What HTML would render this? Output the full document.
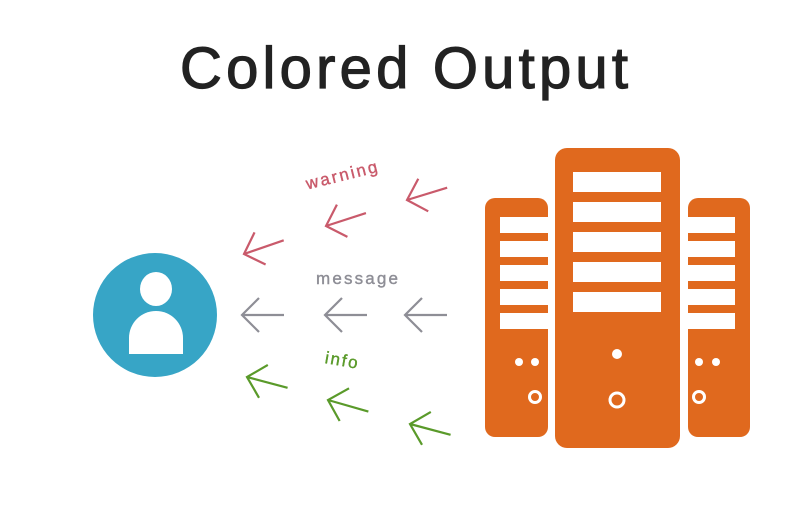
<!DOCTYPE html>
<html><head><meta charset="utf-8"><style>
html,body{margin:0;padding:0;background:#fff;}
svg{display:block;}
</style></head><body>
<svg width="800" height="520" viewBox="0 0 800 520" xmlns="http://www.w3.org/2000/svg">
<text x="180" y="88" textLength="448" lengthAdjust="spacing" font-family="Liberation Sans, sans-serif" font-size="58" fill="#222" stroke="#222" stroke-width="1.2">Colored Output</text>
<circle cx="155" cy="315" r="62" fill="#37a5c6"/>
<ellipse cx="156" cy="289" rx="16" ry="17" fill="#fff"/>
<path d="M129,354 L129,338 A27,27 0 0 1 183,338 L183,354 Z" fill="#fff"/>
<g fill="#e0691e">
<rect x="485" y="198" width="63" height="239" rx="10"/>
<rect x="555" y="148" width="125" height="300" rx="12"/>
<rect x="688" y="198" width="62" height="239" rx="10"/>
</g>
<g fill="#fff">
<rect x="573" y="172" width="88" height="20"/><rect x="573" y="202" width="88" height="20"/><rect x="573" y="232" width="88" height="20"/><rect x="573" y="262" width="88" height="20"/><rect x="573" y="292" width="88" height="20"/>
<rect x="500" y="217" width="48" height="16"/><rect x="500" y="241" width="48" height="16"/><rect x="500" y="265" width="48" height="16"/><rect x="500" y="289" width="48" height="16"/><rect x="500" y="313" width="48" height="16"/>
<rect x="688" y="217" width="47" height="16"/><rect x="688" y="241" width="47" height="16"/><rect x="688" y="265" width="47" height="16"/><rect x="688" y="289" width="47" height="16"/><rect x="688" y="313" width="47" height="16"/>
<circle cx="617" cy="354" r="5"/><circle cx="519" cy="362" r="4"/><circle cx="535" cy="362" r="4"/><circle cx="699" cy="362" r="4"/><circle cx="716" cy="362" r="4"/>
</g>
<g fill="none" stroke="#fff" stroke-width="3">
<circle cx="617" cy="400" r="7"/><circle cx="535" cy="397" r="5.5"/><circle cx="699" cy="397" r="5.5"/>
</g>
<defs><g id="ar"><path d="M0,0 L42,0 M17,-17 L0,0 L17,17" fill="none" stroke-width="2.2"/></g></defs>
<g stroke="#c95a6b">
<use href="#ar" transform="translate(407,200) rotate(-17)"/>
<use href="#ar" transform="translate(326,226) rotate(-18)"/>
<use href="#ar" transform="translate(244,254) rotate(-19)"/>
</g>
<g stroke="#8e8e96">
<use href="#ar" transform="translate(242,315)"/>
<use href="#ar" transform="translate(325,315)"/>
<use href="#ar" transform="translate(405,315)"/>
</g>
<g stroke="#5a9a2a">
<use href="#ar" transform="translate(247,377) rotate(15)"/>
<use href="#ar" transform="translate(328,400) rotate(16)"/>
<use href="#ar" transform="translate(410,424) rotate(15)"/>
</g>
<text x="305" y="181" textLength="73" transform="rotate(-14 341 175)" font-family="Liberation Sans, sans-serif" font-size="17" fill="#c95a6b" stroke="#c95a6b" stroke-width="0.4">warning</text>
<text x="316" y="284" textLength="82" font-family="Liberation Sans, sans-serif" font-size="17" fill="#8e8e96" stroke="#8e8e96" stroke-width="0.4">message</text>
<text x="325" y="366" textLength="33" transform="rotate(10 342 360)" font-family="Liberation Sans, sans-serif" font-size="17" fill="#5a9a2a" stroke="#5a9a2a" stroke-width="0.4">info</text>
</svg>
</body></html>
